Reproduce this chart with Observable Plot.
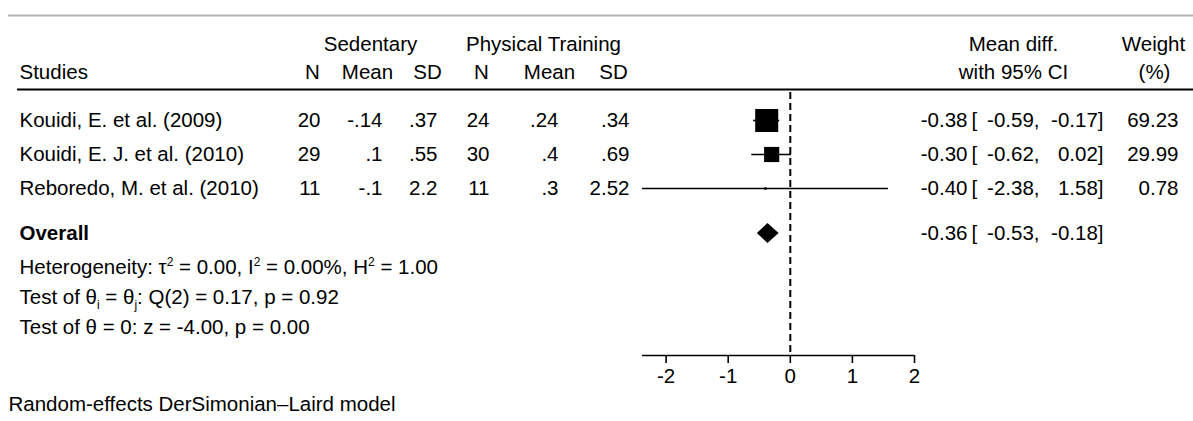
<!DOCTYPE html>
<html><head><meta charset="utf-8">
<script src="https://cdn.jsdelivr.net/npm/d3@7"></script>
<script src="https://cdn.jsdelivr.net/npm/@observablehq/plot@0.6"></script>
<style>
html,body{margin:0;padding:0;background:#fff;}
</style>
</head><body><div id="chart"></div>
<script>
// ---------- data ----------
const studies = ["Kouidi, E. et al. (2009)", "Kouidi, E. J. et al. (2010)", "Reboredo, M. et al. (2010)"];
const sedN = [20, 29, 11];
const sedMean = [-0.14, 0.1, -0.1];
const sedSD = [0.37, 0.55, 2.2];
const ptN = [24, 30, 11];
const ptMean = [0.24, 0.4, 0.3];
const ptSD = [0.34, 0.69, 2.52];
const effect = [-0.38, -0.30, -0.40];
const lower = [-0.59, -0.62, -2.38];
const upper = [-0.17, 0.02, 1.58];
const weight = [69.23, 29.99, 0.78];
const overallLabel = "Overall";
const overallEffect = -0.36, overallLower = -0.53, overallUpper = -0.18;
const statsLines = [
  "Heterogeneity: \u03c4^{2} = 0.00, I^{2} = 0.00%, H^{2} = 1.00",
  "Test of \u03b8_{i} = \u03b8_{j}: Q(2) = 0.17, p = 0.92",
  "Test of \u03b8 = 0: z = -4.00, p = 0.00"
];
const footnote = "Random-effects DerSimonian\u2013Laird model";
const xTicks = [-2, -1, 0, 1, 2];
const xMax = 2;

// ---------- layout ----------
const W = 1193, H = 421;
const rowY = [120, 154, 188];
const overallY = 233;
const statsY = [267, 297, 327];
const axisY = 355;
const footY = 404;
const FONT = "'Liberation Sans', Arial, Helvetica, sans-serif";

const stata = v => String(v).replace(/^(-?)0\./, "$1.");
const f2 = v => v.toFixed(2);

const rows = studies.map((s, i) => ({
  study: s, sn: sedN[i], sm: sedMean[i], ss: sedSD[i],
  pn: ptN[i], pm: ptMean[i], ps: ptSD[i],
  effect: effect[i], lower: lower[i], upper: upper[i], weight: weight[i], y: rowY[i]
}));
const overallRow = {effect: overallEffect, lower: overallLower, upper: overallUpper, y: overallY};
const ciRows = [...rows, overallRow];

const col = (data, dx, anchor, text, extra = {}) =>
  Plot.text(data, {y: "y", text, frameAnchor: "left", dx, textAnchor: anchor, fill: "black", ...extra});

const headers = [
  {t: "Sedentary", x: 370, y: 44},
  {t: "Physical Training", x: 543, y: 44},
  {t: "N", x: 312, y: 72}, {t: "Mean", x: 367, y: 72}, {t: "SD", x: 427, y: 72},
  {t: "N", x: 481, y: 72}, {t: "Mean", x: 549, y: 72}, {t: "SD", x: 613, y: 72},
  {t: "Mean diff.", x: 1013, y: 44}, {t: "with 95% CI", x: 1013, y: 72},
  {t: "Weight", x: 1153, y: 44}, {t: "(%)", x: 1154, y: 72}
];

const half = 10;
const diamond = [
  {x: overallLower, y1: overallY, y2: overallY},
  {x: overallEffect, y1: overallY - half, y2: overallY + half},
  {x: overallUpper, y1: overallY, y2: overallY}
];

const plot = Plot.plot({
  width: W, height: H,
  marginTop: 0, marginLeft: 0, marginRight: 0, marginBottom: H - axisY,
  x: {domain: [d3.min(lower), xMax], range: [642, 914]},
  y: {domain: [0, H], range: [0, H], axis: null},
  r: {type: "sqrt", domain: [0, d3.max(weight)], range: [0, 13]},
  style: {fontFamily: FONT, fontSize: "20.5px", background: "white", color: "black", overflow: "visible"},
  marks: [
    // rules
    Plot.ruleY([15], {stroke: "#b4b4b4", strokeWidth: 2, insetLeft: 8}),
    Plot.ruleY([89], {stroke: "black", strokeWidth: 2, insetLeft: 17}),
    // header text
    ...headers.map(h => Plot.text([h], {y: "y", text: "t", frameAnchor: "left", dx: h.x, textAnchor: "middle", fill: "black"})),
    Plot.text([{t: "Studies", y: 72}], {y: "y", text: "t", frameAnchor: "left", dx: 19, textAnchor: "start", fill: "black"}),
    // table body
    col(rows, 19, "start", "study"),
    col(rows, 320, "end", d => stata(d.sn)),
    col(rows, 382, "end", d => stata(d.sm)),
    col(rows, 437, "end", d => stata(d.ss)),
    col(rows, 489, "end", d => stata(d.pn)),
    col(rows, 558, "end", d => stata(d.pm)),
    col(rows, 629, "end", d => stata(d.ps)),
    col([overallRow], 19, "start", () => overallLabel, {fontWeight: "bold"}),
    // CI text
    col(ciRows, 967, "end", d => f2(d.effect)),
    col(ciRows, 971, "start", () => "["),
    col(ciRows, 1039, "end", d => f2(d.lower) + ","),
    col(ciRows, 1103, "end", d => f2(d.upper) + "]"),
    col(rows, 1178, "end", d => f2(d.weight)),
    // stats lines
    col(statsLines.map((t, i) => ({t, y: statsY[i]})), 19, "start", "t"),
    col([{t: footnote, y: footY}], 8, "start", "t"),
    // forest
    Plot.ruleX([0], {y1: 92, y2: axisY, stroke: "black", strokeWidth: 2, strokeDasharray: "7,4"}),
    Plot.ruleY(rows, {y: "y", x1: "lower", x2: "upper", stroke: "black", strokeWidth: 1.6}),
    Plot.dot(rows, {x: "effect", y: "y", r: "weight", symbol: "square", fill: "black", stroke: "none"}),
    Plot.areaY(diamond, {x: "x", y1: "y1", y2: "y2", fill: "black", curve: "linear"}),
    // axis
    Plot.ruleY([axisY], {x1: d3.min(lower), x2: xMax, stroke: "black", strokeWidth: 1.6}),
    Plot.axisX({ticks: xTicks, anchor: "bottom", tickSize: 8, tickPadding: 5, tickFormat: d => String(d),
      fontSize: 20.5, strokeWidth: 1.6, label: null, fill: "black", stroke: "black"})
  ]
});

// superscripts / subscripts as tspans
plot.querySelectorAll("text").forEach(t => {
  const s = t.textContent;
  if (!/[\^_]\{/.test(s)) return;
  t.textContent = "";
  const re = /([\^_])\{([^}]*)\}/g;
  let last = 0, m, prev = null;
  const NS = "http://www.w3.org/2000/svg";
  const add = (str, kind) => {
    const ts = document.createElementNS(NS, "tspan");
    ts.textContent = str;
    let dy = 0;
    if (prev === "^") dy += 8; else if (prev === "_") dy -= 5;
    if (kind === "^") dy -= 8; else if (kind === "_") dy += 5;
    if (dy) ts.setAttribute("dy", dy);
    if (kind) ts.setAttribute("font-size", "12px");
    t.appendChild(ts);
    prev = kind;
  };
  while ((m = re.exec(s))) {
    if (m.index > last) add(s.slice(last, m.index), null);
    add(m[2], m[1]);
    last = re.lastIndex;
  }
  if (last < s.length) add(s.slice(last), null);
});

document.getElementById("chart").appendChild(plot);
</script>
</body></html>
